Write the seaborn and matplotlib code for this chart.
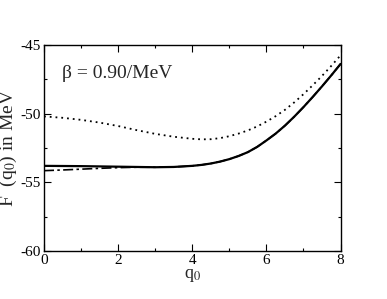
import numpy as np
import pandas as pd
import matplotlib
matplotlib.use("Agg")
import matplotlib.pyplot as plt
import seaborn as sns
from matplotlib.ticker import MultipleLocator

sns.set_style("ticks")
plt.rcParams['font.family'] = ['Liberation Serif', 'DejaVu Serif']
plt.rcParams['mathtext.fontset'] = 'stix'
plt.rcParams['axes.unicode_minus'] = False

# valores
q0 = [0, 0.5, 1, 1.5, 2, 2.5, 3, 3.5, 4, 4.25, 4.5, 4.75, 5, 5.25, 5.5, 5.75,
      6, 6.25, 6.5, 6.75, 7, 7.25, 7.5, 7.75, 8]
f_solid = [-53.80, -53.81, -53.82, -53.84, -53.86, -53.88, -53.90, -53.88, -53.80,
           -53.73, -53.63, -53.49, -53.31, -53.08, -52.80, -52.42, -51.95,
           -51.45, -50.87, -50.22, -49.52, -48.78, -48.01, -47.21, -46.38]
f_dotted = [-50.20, -50.30, -50.45, -50.65, -50.90, -51.20, -51.47, -51.68, -51.83,
            -51.87, -51.86, -51.78, -51.64, -51.45, -51.22, -50.93, -50.58,
            -50.18, -49.72, -49.18, -48.58, -47.93, -47.25, -46.52, -45.75]
f_dashdot = [-54.15, -54.10, -54.04, -53.98, -53.93, -53.90, -53.90, -53.88, -53.80,
             -53.73, -53.63, -53.49, -53.31, -53.08, -52.80, -52.42, -51.95,
             -51.45, -50.87, -50.22, -49.52, -48.78, -48.01, -47.21, -46.38]

df = pd.DataFrame({'q0': q0, 'solid': f_solid, 'dotted': f_dotted, 'dashdot': f_dashdot})

fig = plt.figure(figsize=(3.87, 2.99), dpi=100)
ax = fig.add_axes([0.1137, 0.1605, 0.7663, 0.689])

sns.lineplot(data=df, x='q0', y='dashdot', ax=ax, color='black', lw=1.2)
ax.lines[-1].set_linestyle((0, (6, 2, 1.5, 2)))
sns.lineplot(data=df, x='q0', y='dotted', ax=ax, color='black', lw=1.3)
ax.lines[-1].set_linestyle((0, (1, 2.2)))
sns.lineplot(data=df, x='q0', y='solid', ax=ax, color='black', lw=1.6)

ax.set_xlim(0, 8)
ax.set_ylim(-60, -45)
ax.xaxis.set_major_locator(MultipleLocator(2))
ax.xaxis.set_minor_locator(MultipleLocator(1))
ax.yaxis.set_major_locator(MultipleLocator(5))
ax.yaxis.set_minor_locator(MultipleLocator(2.5))
ax.tick_params(which='both', direction='in', top=True, right=True, labelsize=11,
               width=0.8, colors='black', pad=2)
ax.tick_params(which='major', length=5)
ax.tick_params(which='minor', length=2.5)
for s in ax.spines.values():
    s.set_linewidth(1.0)
    s.set_color('black')

ax.set_xlabel('q$_0$', fontsize=13, labelpad=0)
ax.set_ylabel('F  (q$_0$) in MeV', fontsize=14, labelpad=1)
ax.text(0.06, 0.86, 'β = 0.90/MeV', transform=ax.transAxes, fontsize=14, va='center')

fig.savefig('out.png', dpi=100)
